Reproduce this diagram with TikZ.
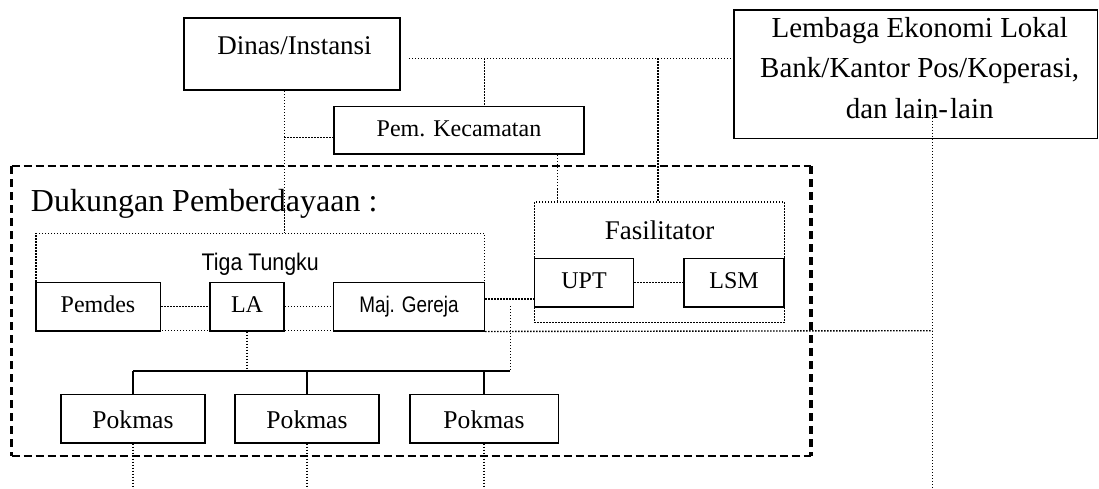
\documentclass[tikz,border=0pt]{standalone}
\usepackage{fontspec}
\setmainfont{Liberation Serif}
\newfontfamily\narrowa[FakeStretch=0.89]{Liberation Sans}
\newfontfamily\narrowb[FakeStretch=0.84]{Liberation Sans}
\usetikzlibrary{calc}
\begin{document}
\begin{tikzpicture}[x=1pt,y=-1pt,
  box/.style={draw, rectangle, line width=1.6pt, fill=white, inner sep=0pt, text depth=0pt},
  dot/.style={line width=1.4pt, dash pattern=on 1.4pt off 1.6pt},
  dotbox/.style={draw, rectangle, dot, inner sep=0pt, text height=0pt},
  solidline/.style={line width=1.6pt},
  dashtb/.style={line width=2pt, dash pattern=on 8pt off 4pt},
  dashlr/.style={line width=3.5pt, dash pattern=on 8pt off 5pt},
  small/.style={font=\fontsize{24}{28}\selectfont},
  pok/.style={box, minimum height=48.4pt, text height=19.6pt, font=\fontsize{25.6}{30}\selectfont},
  mid/.style={box, minimum height=48.4pt, small}
]
\useasboundingbox (0,0) rectangle (1099,489);

% dashed support frame
\node[rectangle, minimum width=799.3pt, minimum height=289.2pt, inner sep=0pt] (dk) at (411.35,310.9) {};
\draw[dashtb] (dk.north west) -- (dk.north east);
\draw[dashtb] (dk.south west) -- (dk.south east);
\draw[dashlr] (dk.north west) -- (dk.south west);
\draw[dashlr] (dk.north east) -- (dk.south east);
\node[anchor=base west, inner sep=0pt, font=\fontsize{32}{38}\selectfont] (dkt) at (30.7,211) {Dukungan Pemberdayaan :};

% containers
\node[dotbox, minimum width=448.3pt, minimum height=97.4pt, text depth=23pt, font=\narrowa\fontsize{24}{28}\selectfont] (tiga) at (260.2,282) {Tiga Tungku};
\node[dotbox, minimum width=250.2pt, minimum height=120.3pt, text depth=45.8pt, font=\fontsize{27}{32}\selectfont] (fas) at (659.5,262.2) {Fasilitator};

% boxes
\node[box, minimum width=216pt, minimum height=72pt, text height=1.4pt, font=\fontsize{27}{32}\selectfont] (din) at (292,54.3) {\hspace*{5pt}Dinas/Instansi};
\node[box, minimum width=250.5pt, minimum height=47.6pt, text height=12.4pt, small] (pk) at (459,130.5) {Pem. Kecamatan};
\node[box, minimum width=363.7pt, minimum height=128.3pt, text height=0pt, text depth=73.8pt, font=\fontsize{29}{40.5}\selectfont] (lel) at (915.7,74.2)
  {\begin{tabular}[t]{@{\hspace{8pt}}c@{}}Lembaga Ekonomi Lokal\\Bank/Kantor Pos/Koperasi,\\dan lain-\kern2pt lain\end{tabular}};

\node[mid, minimum width=124.6pt, text height=11pt] (pem) at (98,306.5) {Pemdes};
\node[mid, minimum width=74.3pt, text height=11pt] (la) at (247,306.5) {LA};
\node[mid, minimum width=150.7pt, text height=12pt, font=\narrowb\fontsize{22.5}{27}\selectfont] (mg) at (409,306.5) {Maj. Gereja};
\node[mid, minimum width=99.3pt, text height=11.6pt] (upt) at (584,282.5) {UPT};
\node[mid, minimum width=99.7pt, text height=11.6pt] (lsm) at (734,282.5) {LSM};

\node[pok, minimum width=144pt] (p1) at (133,418.5) {Pokmas};
\node[pok, minimum width=143.7pt] (p2) at (307,418.5) {Pokmas};
\node[pok, minimum width=148.6pt] (p3) at (484,418.5) {Pokmas};

% junction coordinates
\coordinate (d1) at (409,58.3);
\coordinate (j1) at (484.3,58.3);
\coordinate (j2) at (657.8,58.3);
\coordinate (j3) at (284.3,137.7);
\coordinate (j4) at (557.7,180);
\coordinate (jm) at (509,299);
\coordinate (jv) at (510.3,306);
\coordinate (busR) at (510.3,370.7);
\coordinate (jla) at (247,373.3);
\coordinate (jl) at (932.3,330.7);
\coordinate (lk) at (932.3,115);
\coordinate (le) at (932.3,489);

% dotted connectors
\draw[dot] (d1) -- (lel.west |- d1);
\draw[dot] (j1) -- (pk.north -| j1);
\draw[dot] (j2) -- (fas.north -| j2);
\draw[dot] (din.south -| j3) -- (tiga.north -| j3);
\draw[dot] (j3) -- (pk.west |- j3);
\draw[dot] (pk.south -| j4) -- (fas.north -| j4);
\draw[dot] (pem.east) -- (la.west);
\draw[dot] (la.east) -- (mg.west);
\draw[dot] (upt.east) -- (lsm.west);
\draw[dot] (mg.east |- jm) -- (upt.west |- jm);
\draw[dot] (jv) -- (busR);
\draw[dot] (la.south) -- (jla);
\draw[dot] (mg.south east) -- (jl);
\draw[dot] (lk) -- (le);
\draw[dot] (p1.south) -- (p1.south |- le);
\draw[dot] (p2.south) -- (p2.south |- le);
\draw[dot] (p3.south) -- (p3.south |- le);

% solid bus
\draw[solidline] (p1.north |- busR) -- (busR);
\draw[solidline] (p1.north) -- (p1.north |- busR);
\draw[solidline] (p2.north) -- (p2.north |- busR);
\draw[solidline] (p3.north) -- (p3.north |- busR);
\end{tikzpicture}
\end{document}
